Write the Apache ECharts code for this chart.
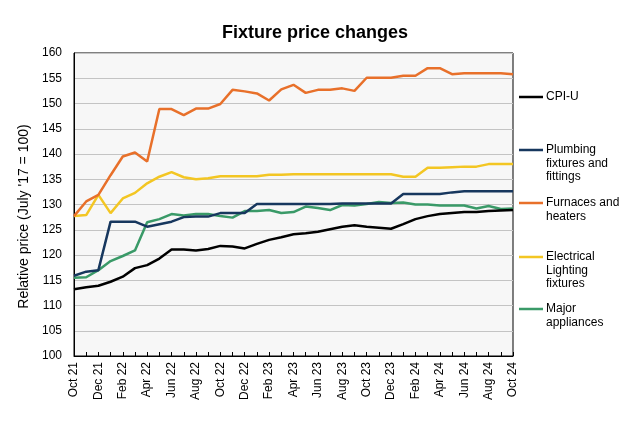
<!DOCTYPE html>
<html>
<head>
<meta charset="utf-8">
<script src="https://cdn.jsdelivr.net/npm/echarts@6/dist/echarts.min.js"></script>
<style>html,body{margin:0;padding:0;background:#fff;}#c{width:624px;height:426px;}</style>
</head>
<body>
<div id="c"></div>
<script>
var categories = ["Oct 21","Nov 21","Dec 21","Jan 22","Feb 22","Mar 22","Apr 22","May 22","Jun 22","Jul 22","Aug 22","Sep 22","Oct 22","Nov 22","Dec 22","Jan 23","Feb 23","Mar 23","Apr 23","May 23","Jun 23","Jul 23","Aug 23","Sep 23","Oct 23","Nov 23","Dec 23","Jan 24","Feb 24","Mar 24","Apr 24","May 24","Jun 24","Jul 24","Aug 24","Sep 24","Oct 24"];
var cpiU = [113.2,113.6,113.9,114.7,115.7,117.4,118.0,119.3,121.1,121.1,120.9,121.2,121.8,121.7,121.3,122.2,123.0,123.5,124.1,124.3,124.6,125.1,125.6,125.9,125.6,125.4,125.2,126.1,127.1,127.7,128.1,128.3,128.5,128.5,128.7,128.8,128.9];
var plumbing = [115.9,116.7,117.0,126.6,126.6,126.6,125.6,126.1,126.6,127.5,127.6,127.6,128.3,128.3,128.3,130.1,130.1,130.1,130.1,130.1,130.1,130.1,130.2,130.2,130.2,130.2,130.2,132.1,132.1,132.1,132.1,132.4,132.6,132.6,132.6,132.6,132.6];
var furnaces = [127.7,130.6,131.9,135.8,139.5,140.3,138.5,148.9,148.9,147.7,149.0,149.0,149.9,152.7,152.4,152.0,150.6,152.8,153.7,152.1,152.7,152.7,153.0,152.5,155.1,155.1,155.1,155.5,155.5,157.0,157.0,155.8,156.0,156.0,156.0,156.0,155.8];
var lighting = [127.7,127.9,131.9,128.3,131.2,132.3,134.2,135.5,136.4,135.4,135.0,135.2,135.6,135.6,135.6,135.6,135.9,135.9,136.0,136.0,136.0,136.0,136.0,136.0,136.0,136.0,136.0,135.5,135.5,137.3,137.3,137.4,137.5,137.5,138.0,138.0,138.0];
var appliances = [115.5,115.6,117.0,118.8,119.8,120.9,126.5,127.1,128.1,127.8,128.1,128.1,127.7,127.4,128.7,128.7,128.9,128.3,128.5,129.6,129.3,128.9,129.9,129.8,130.1,130.5,130.3,130.4,130.0,130.0,129.8,129.8,129.8,129.2,129.7,129.1,129.2];

var seriesNames = ["CPI-U","Plumbing fixtures and fittings","Furnaces and heaters","Electrical Lighting fixtures","Major appliances"];
var legendLines = [["CPI-U"],["Plumbing","fixtures and","fittings"],["Furnaces and","heaters"],["Electrical","Lighting","fixtures"],["Major","appliances"]];
var colors = ["#000000","#17375e","#e8702a","#f3c623","#3a9a68"];
var seriesData = [cpiU, plumbing, furnaces, lighting, appliances];

var FONT = '"Liberation Sans", Arial, sans-serif';
var chart = echarts.init(document.getElementById('c'));
var legendTops = [97,150,203,257,309];
var graphics = [];
legendLines.forEach(function(lines, i){
  graphics.push({type:'line', shape:{x1:519,y1:legendTops[i],x2:543,y2:legendTops[i]}, style:{stroke:colors[i], lineWidth:2.5}});
  graphics.push({type:'text', left:546, top:legendTops[i]-7, style:{text:lines.join('\n'), font:'12px ' + FONT, fill:'#000', lineHeight:13.5}});
});

chart.setOption({
  animation:false,
  backgroundColor:'#ffffff',
  title:{text:'Fixture price changes', left:310, top:19, textAlign:'center', textStyle:{fontFamily:FONT, fontSize:18, fontWeight:'bold', color:'#000'}},
  grid:{left:74, right:111, top:53, bottom:70, show:true, backgroundColor:'#f7f7f7', borderColor:'#000', borderWidth:1},
  xAxis:{type:'category', data:categories, boundaryGap:false,
    axisLine:{lineStyle:{color:'#000', width:1}},
    axisTick:{show:true, inside:true, length:4, interval:0, lineStyle:{color:'#000'}},
    axisLabel:{rotate:90, interval:1, fontSize:12, color:'#000', fontFamily:FONT, margin:6},
    splitLine:{show:false}},
  yAxis:{type:'value', min:100, max:160, interval:5,
    name:"Relative price (July '17 = 100)", nameLocation:'middle', nameGap:36, nameRotate:90,
    nameTextStyle:{fontSize:14, color:'#000', fontFamily:FONT, padding:[0,24,0,0]},
    axisLine:{show:true, lineStyle:{color:'#000'}},
    axisTick:{show:false},
    axisLabel:{fontSize:12, color:'#000', fontFamily:FONT, margin:12},
    splitLine:{show:true, lineStyle:{color:'#c4c4c4', width:1}}},
  series: seriesNames.map(function(n,i){
    return {name:n, type:'line', data:seriesData[i], showSymbol:false, symbol:'none', lineStyle:{color:colors[i], width:2.5}, itemStyle:{color:colors[i]}, z:10-i};
  }),
  graphic: graphics
});
</script>
</body>
</html>
